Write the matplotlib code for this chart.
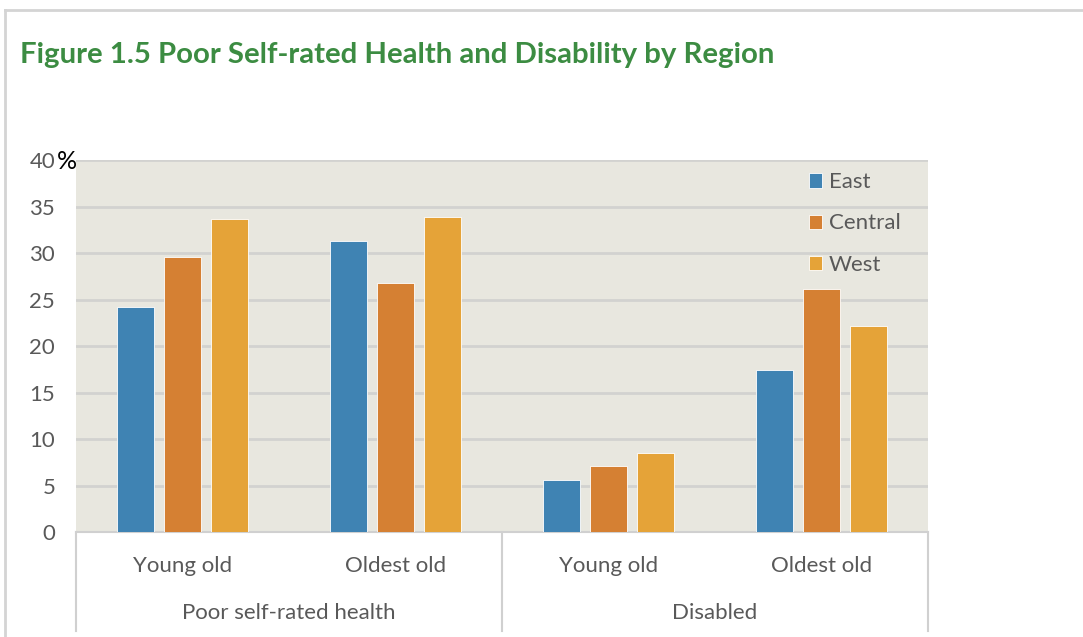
import numpy as np
import matplotlib.pyplot as plt
from matplotlib.transforms import blended_transform_factory
from matplotlib.lines import Line2D

plt.rcParams['font.family'] = ['Lato', 'DejaVu Sans']

subgroups = ["Young old", "Oldest old", "Young old", "Oldest old"]
groups = ["Poor self-rated health", "Disabled"]
regions = ["East", "Central", "West"]
east = [24.2, 31.3, 5.6, 17.4]
central = [29.6, 26.8, 7.1, 26.1]
west = [33.7, 33.9, 8.5, 22.2]
colors = ["#3f83b3", "#d58033", "#e5a338"]

fig = plt.figure(figsize=(10.83, 6.37), dpi=100)
ax = fig.add_axes([0.0702, 0.1648, 0.7867, 0.584])
ax.set_facecolor("#e8e7df")

x = np.arange(len(subgroups))
width = 0.174
step = 0.22
for i, (vals, name) in enumerate(zip([east, central, west], regions)):
    ax.bar(x + (i - 1) * step, vals, width, color=colors[i], label=name,
           zorder=3, edgecolor="white", linewidth=0.6)

ax.set_xlim(-0.5, len(subgroups) - 0.5)
ax.set_ylim(0, 40)
ax.set_yticks(range(0, 41, 5))
ax.set_yticklabels([str(v) for v in range(0, 41, 5)])
ax.yaxis.grid(True, color="#d2d2d0", linewidth=2, zorder=0)
ax.set_axisbelow(True)
ax.tick_params(axis="y", length=0, labelsize=16, labelcolor="#595959", pad=15)
ax.set_xticks([])
for s in ["top", "right", "left"]:
    ax.spines[s].set_visible(False)
ax.spines["bottom"].set_color("#d0d0d0")
ax.spines["bottom"].set_linewidth(1.5)

# percent sign next to the top tick
ax.text(-0.023, 0.996, "%", transform=ax.transAxes, fontsize=18,
        color="black", ha="left", va="center")

# two-level category axis
tr = blended_transform_factory(ax.transData, ax.transAxes)
for xi, lab in zip(x, subgroups):
    ax.text(xi, -0.092, lab, transform=tr, ha="center", va="center",
            fontsize=16, color="#595959")
for gi, lab in enumerate(groups):
    ax.text(gi * 2 + 0.5, -0.218, lab, transform=tr, ha="center",
            va="center", fontsize=16, color="#595959")
for xb in [-0.5, 1.5, 3.5]:
    ax.add_line(Line2D([xb, xb], [0, -0.265], transform=tr, color="#d0d0d0",
                       linewidth=1.5, clip_on=False))

leg = ax.legend(loc="upper left", bbox_to_anchor=(0.86, 0.967), frameon=False,
                fontsize=16, handlelength=0.6, handleheight=0.6, borderpad=0,
                borderaxespad=0, handletextpad=0.3, labelspacing=0.95,
                labelcolor="#595959")

fig.text(0.0185, 0.914, "Figure 1.5 Poor Self-rated Health and Disability by Region",
         fontsize=21.2, fontweight="bold", color="#3c8c42", ha="left", va="center")

# outer frame
fig.add_artist(Line2D([0.005, 1.0], [0.984, 0.984], color="#d4d4d4", linewidth=2))
fig.add_artist(Line2D([0.005, 0.005], [0.0, 0.984], color="#d4d4d4", linewidth=2))

fig.savefig("out.png", dpi=100)
